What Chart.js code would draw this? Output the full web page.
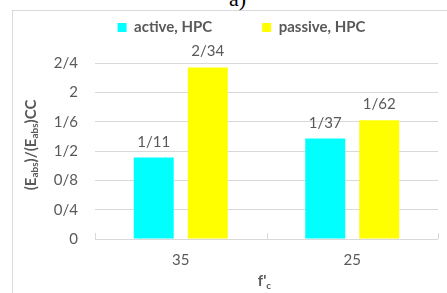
<!DOCTYPE html>
<html>
<head>
<meta charset="utf-8">
<script src="https://cdn.jsdelivr.net/npm/chart.js@4/dist/chart.umd.min.js"></script>
<style>
  html, body { margin: 0; padding: 0; background: #fff; overflow: hidden; }
  #wrap { position: relative; width: 447px; height: 293px; overflow: hidden; }
  #frame { position: absolute; left: 12px; top: 10px; width: 600px; height: 400px; border: 1px solid #d9d9d9; }
  #cap { position: absolute; left: 0; width: 447px; top: -14px; text-align: center; padding-left: 28px; box-sizing: border-box;
         font-family: "Liberation Serif", serif; font-size: 22px; color: #000; }
  #c { position: absolute; left: 0; top: 0; }
</style>
</head>
<body>
<div id="wrap">
  <div id="frame"></div>
  <div id="cap">a)</div>
  <canvas id="c" width="447" height="293"></canvas>
</div>
<script>
const categories = ["35", "25"];
const seriesNames = ["active, HPC", "passive, HPC"];
const activeValues = [1.11, 1.37];
const passiveValues = [2.34, 1.62];
const yTicks = [0, 0.4, 0.8, 1.2, 1.6, 2.0, 2.4];

const TEXT = "#595959";
const FONT = "Lato, 'Open Sans', sans-serif";

function fmt(v) {
  let s = (Math.round(v * 100) / 100).toString();
  return s.replace(".", "/");
}

const LEGEND_SHIFT = 42;
const legendSpace = {
  id: "legendSpace",
  beforeInit(chart) {
    const orig = chart.legend.fit;
    chart.legend.fit = function () {
      orig.bind(chart.legend)();
      this.height -= 24;
    };
  },
  afterLayout(chart) {
    chart.legend.top -= LEGEND_SHIFT;
  }
};

const dataLabels = {
  id: "dataLabels",
  afterDatasetsDraw(chart) {
    const ctx = chart.ctx;
    ctx.save();
    ctx.font = "15px " + FONT;
    ctx.fillStyle = TEXT;
    ctx.textAlign = "center";
    ctx.textBaseline = "alphabetic";
    chart.data.datasets.forEach((ds, i) => {
      const meta = chart.getDatasetMeta(i);
      meta.data.forEach((el, j) => {
        ctx.fillText(fmt(ds.data[j]), el.x, el.y - 11);
      });
    });
    ctx.restore();
  }
};

function drawParts(ctx, parts, x, y, align) {
  let total = 0;
  parts.forEach(p => { ctx.font = p.font; total += ctx.measureText(p.t).width; });
  let cx = align === "center" ? x - total / 2 : x;
  parts.forEach(p => {
    ctx.font = p.font;
    ctx.fillText(p.t, cx, y + (p.dy || 0));
    cx += ctx.measureText(p.t).width;
  });
}

const axisTitles = {
  id: "axisTitles",
  afterDraw(chart) {
    const ctx = chart.ctx;
    const ys = chart.scales.y, xs = chart.scales.x;
    ctx.save();
    ctx.fillStyle = TEXT;
    ctx.textBaseline = "middle";
    const big = "bold 15px " + FONT, small = "bold 10px " + FONT;
    // y title
    ctx.save();
    ctx.translate(31, (ys.top + ys.bottom) / 2 - 6);
    ctx.rotate(-Math.PI / 2);
    drawParts(ctx, [
      { t: "(E", font: big }, { t: "abs", font: small, dy: 4 },
      { t: ")/(E", font: big }, { t: "abs", font: small, dy: 4 },
      { t: ")CC", font: big }
    ], 0, 0, "center");
    ctx.restore();
    // x title
    drawParts(ctx, [
      { t: "f'", font: big }, { t: "c", font: small, dy: 5 }
    ], (xs.left + xs.right) / 2 - 2, 281, "center");
    // category boundary tick marks
    ctx.strokeStyle = "#d9d9d9";
    ctx.lineWidth = 1;
    const n = categories.length;
    const w = (xs.right - xs.left) / n;
    for (let i = 0; i <= n; i++) {
      const px = Math.round(xs.left + i * w) + 0.5;
      ctx.beginPath();
      ctx.moveTo(px, ys.bottom);
      ctx.lineTo(px, ys.bottom - 6);
      ctx.stroke();
    }
    ctx.restore();
  }
};

new Chart(document.getElementById("c"), {
  type: "bar",
  data: {
    labels: categories,
    datasets: [
      { label: seriesNames[0], data: activeValues, backgroundColor: "#00FFFF", categoryPercentage: 0.63, barPercentage: 0.74 },
      { label: seriesNames[1], data: passiveValues, backgroundColor: "#FFFF00", categoryPercentage: 0.63, barPercentage: 0.74 }
    ]
  },
  options: {
    responsive: false,
    animation: false,
    devicePixelRatio: 1,
    layout: { padding: { left: 45, right: 9, top: 12, bottom: 0 } },
    plugins: {
      legend: {
        position: "top",
        labels: {
          boxWidth: 9, boxHeight: 9, padding: 50,
          color: TEXT, font: { family: FONT, size: 15, weight: "bold" }
        }
      },
      tooltip: { enabled: false }
    },
    scales: {
      x: {
        grid: { display: false, drawTicks: false },
        border: { display: false },
        ticks: { color: TEXT, font: { family: FONT, size: 15 }, padding: 12 },
        afterFit(s) { s.height = 54; }
      },
      y: {
        min: 0, max: 2.4,
        afterBuildTicks(s) { s.ticks = yTicks.map(v => ({ value: v })); },
        grid: { color: "#d9d9d9", drawTicks: false },
        border: { display: false },
        ticks: { color: TEXT, font: { family: FONT, size: 15 }, padding: 17, callback: v => fmt(v) },
        afterFit(s) { s.width = 50; }
      }
    }
  },
  plugins: [legendSpace, dataLabels, axisTitles]
});
</script>
</body>
</html>
